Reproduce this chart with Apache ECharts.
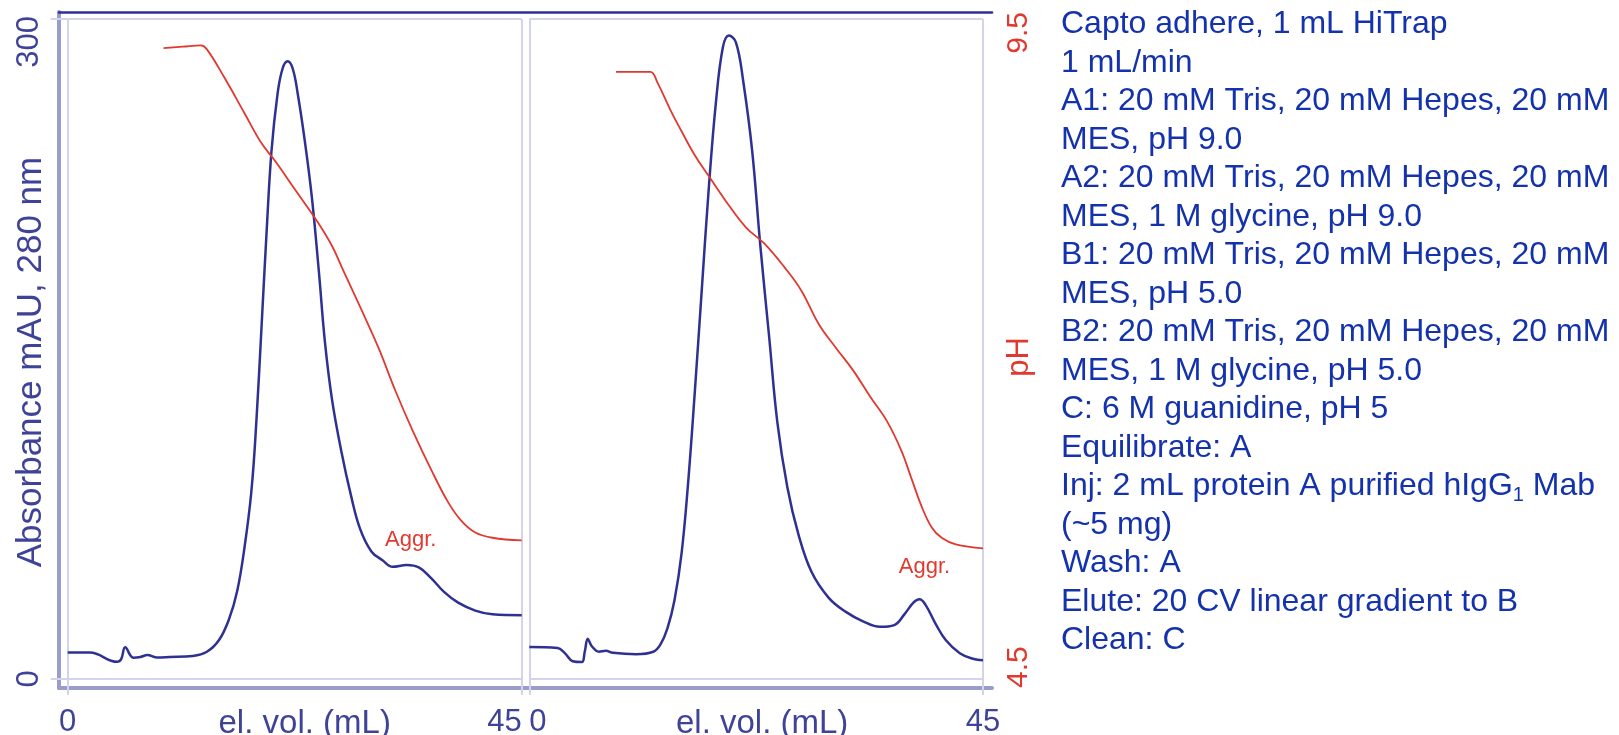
<!DOCTYPE html>
<html>
<head>
<meta charset="utf-8">
<script src="https://cdn.jsdelivr.net/npm/echarts@6/dist/echarts.min.js"></script>
<style>
html, body { margin: 0; padding: 0; background: #fff; }
#frame { width: 1619px; height: 735px; }
</style>
</head>
<body>
<div id="frame"></div>
<script>
// left run (Capto adhere, no glycine)
const leftVol = [0, 2.2, 4.9, 5.3, 5.7, 6.5, 7.2, 7.9, 8.8, 10.1, 12.4, 13.8, 15.0, 16.0, 16.8,
  17.5, 18.2, 18.7, 19.2, 19.7, 20.2, 20.8, 21.3, 21.8, 22.3, 22.8, 23.5, 24.2, 24.9, 25.5,
  26.2, 27.1, 28.1, 29.0, 30.1, 31.2, 32.2, 33.6, 34.8, 36.0, 37.3, 38.7, 40.4, 42.1, 45];
const leftAbs = [12, 12, 7.8, 9, 14.4, 9.7, 10, 10.9, 9.8, 10, 10.5, 12.4, 17.7, 27.3, 40,
  59, 85, 117, 159, 202, 240, 266, 277.5, 280.8, 277.5, 266, 244.6, 219, 185, 153,
  127, 104, 83, 68, 58, 54, 51, 51.8, 50.7, 46, 39.6, 34.7, 31.1, 29.4, 29];
const leftPhVol = [9.5, 11.4, 13.2, 13.8, 15.5, 17.5, 19.2, 20.6, 22.6, 24.7, 26.2, 27.4,
  29.1, 30.8, 32.5, 34.2, 36.0, 37.7, 39.0, 40.4, 42.1, 45];
const leftPh = [9.28, 9.29, 9.30, 9.27, 9.06, 8.79, 8.56, 8.42, 8.20, 7.97, 7.78, 7.58,
  7.30, 7.01, 6.68, 6.38, 6.09, 5.84, 5.70, 5.61, 5.57, 5.55];

// right run (with 1 M glycine)
const rightVol = [0, 2.8, 3.5, 4.3, 5.2, 5.5, 5.8, 6.2, 6.9, 7.6, 8.3, 10.6, 12.3, 13.0, 13.7,
  14.4, 15.1, 15.75, 16.4, 17.1, 17.8, 18.5, 19.2, 19.8, 20.5, 21.2, 22.1, 22.9, 23.8, 24.6,
  25.6, 26.7, 28.0, 29.7, 31.4, 33.1, 34.8, 36.2, 37.2, 38.1, 38.7, 39.3, 40.3, 41.3, 42.7, 44.0, 45];
const rightAbs = [14.5, 14.1, 11.9, 8.1, 7.7, 12.4, 18.3, 14.9, 12.4, 12.8, 11.9, 11.3, 12.4, 15.6, 23,
  35.8, 57, 89, 129.5, 176.4, 223, 261.6, 287.2, 292.5, 289.3, 272.3, 240.3, 197.7, 155, 116.8,
  87, 65.6, 48.6, 36.9, 30.5, 26.2, 23.7, 24.5, 29.4, 34.7, 36.2, 33.7, 25.1, 17.7, 11.7, 9.2, 8.5];
const rightPhVol = [8.6, 12.0, 12.7, 14.0, 15.1, 16.4, 17.8, 19.5, 21.5, 23.3, 25.3, 27.0,
  28.7, 30.4, 32.1, 33.8, 35.5, 36.9, 37.9, 38.9, 39.9, 40.9, 42.3, 45];
const rightPh = [9.10, 9.10, 9.02, 8.81, 8.65, 8.47, 8.31, 8.12, 7.92, 7.80, 7.62, 7.44,
  7.19, 7.01, 6.84, 6.64, 6.45, 6.23, 6.02, 5.81, 5.65, 5.57, 5.52, 5.49];

const volTicks = [0, 45];
const absTicks = [0, 300];
const phTicks = [4.5, 9.5];
const aggrLeft = [34.0, 63];
const aggrRight = [39.2, 51];

const infoLines = [
  'Capto adhere, 1 mL HiTrap',
  '1 mL/min',
  'A1: 20 mM Tris, 20 mM Hepes, 20 mM',
  'MES, pH 9.0',
  'A2: 20 mM Tris, 20 mM Hepes, 20 mM',
  'MES, 1 M glycine, pH 9.0',
  'B1: 20 mM Tris, 20 mM Hepes, 20 mM',
  'MES, pH 5.0',
  'B2: 20 mM Tris, 20 mM Hepes, 20 mM',
  'MES, 1 M glycine, pH 5.0',
  'C: 6 M guanidine, pH 5',
  'Equilibrate: A',
  'Inj: 2 mL protein A purified hIgG{sub|1} Mab',
  '(~5 mg)',
  'Wash: A',
  'Elute: 20 CV linear gradient to B',
  'Clean: C'
];

const font = 'Liberation Sans, Arial, sans-serif';
const navy = '#2e3192';
const axisText = '#3f4398';
const red = '#e0392f';
const lavender = '#d3d4ea';
const frameLight = '#9a9cca';
const infoBlue = '#1432ac';

// frame box spans y 12..688, panel boxes 19..679 (2.2 px per mAU)
const absFrameMin = absTicks[0] - 9 / 2.2;
const absFrameMax = absTicks[1] + 4 / 2.2;

function pairs(xs, ys) {
  return xs.map((x, i) => [x, ys[i]]);
}

function frameX(pos, color, width) {
  return {
    gridIndex: 0, type: 'value', min: 0, max: 1, position: pos,
    axisLine: { show: true, onZero: false, lineStyle: { color: color, width: width } },
    axisTick: { show: false }, axisLabel: { show: false }, splitLine: { show: false }
  };
}

function panelX(gridIndex, labelAlign, nameShift) {
  const axisLabel = { fontSize: 31, color: axisText, margin: 28, fontFamily: font };
  Object.assign(axisLabel, labelAlign);
  return {
    gridIndex: gridIndex, type: 'value', min: volTicks[0], max: volTicks[1],
    interval: volTicks[1] - volTicks[0],
    axisLine: { show: false, onZero: false },
    axisTick: { show: true, length: 16, lineStyle: { color: lavender, width: 2 } },
    splitLine: { show: true, lineStyle: { color: lavender, width: 2 } },
    axisLabel: axisLabel,
    name: 'el. vol. (mL)', nameLocation: 'middle', nameGap: 28, nameMoveOverlap: false,
    nameTextStyle: { fontSize: 33, color: axisText, fontFamily: font, padding: [0, 0, 0, nameShift * 2] }
  };
}

function absLine(data, xi, yi, aggr) {
  return {
    type: 'line', xAxisIndex: xi, yAxisIndex: yi, data: data,
    showSymbol: false, smooth: 0.4, silent: true,
    lineStyle: { color: navy, width: 2.5 }, itemStyle: { color: navy },
    markPoint: {
      symbol: 'circle', symbolSize: 1, silent: true,
      itemStyle: { color: 'rgba(0,0,0,0)' },
      label: { show: true, position: 'inside', formatter: 'Aggr.', color: red, fontSize: 22, fontFamily: font },
      data: [{ coord: aggr }]
    }
  };
}

function phLine(data, xi, yi) {
  return {
    type: 'line', xAxisIndex: xi, yAxisIndex: yi, data: data,
    showSymbol: false, smooth: 0.4, silent: true,
    lineStyle: { color: red, width: 1.8 }, itemStyle: { color: red }
  };
}

const chart = echarts.init(document.getElementById('frame'));
chart.setOption({
  animation: false,
  backgroundColor: '#fff',
  textStyle: { fontFamily: font },
  title: {
    left: 1061, top: 5, padding: 0,
    text: infoLines.join('\n'),
    textStyle: {
      fontFamily: font, fontSize: 32, fontWeight: 'normal', color: infoBlue, lineHeight: 38.5,
      rich: {
        sub: { fontFamily: font, fontSize: 20, lineHeight: 21, verticalAlign: 'bottom', color: infoBlue }
      }
    }
  },
  grid: [
    { left: 59, top: 12, width: 933, height: 676, outerBoundsMode: 'none' },
    { left: 67.7, top: 19, width: 454, height: 660, outerBoundsMode: 'none' },
    { left: 529.3, top: 19, width: 453.7, height: 660, outerBoundsMode: 'none' }
  ],
  xAxis: [
    frameX('bottom', frameLight, 4),
    frameX('top', navy, 2.5),
    panelX(1, { alignMaxLabel: 'right' }, 10),
    panelX(2, { alignMinLabel: 'left' }, 6)
  ],
  yAxis: [
    {
      gridIndex: 0, type: 'value', min: absFrameMin, max: absFrameMax, position: 'left',
      axisLine: { show: true, lineStyle: { color: navy, width: 2.5 } },
      axisTick: { show: false }, splitLine: { show: false },
      axisLabel: {
        show: true, customValues: absTicks, rotate: 90, fontSize: 31, color: axisText,
        margin: 14, alignMaxLabel: 'right', fontFamily: font
      },
      name: 'Absorbance mAU, 280 nm', nameLocation: 'middle', nameRotate: 90, nameGap: 10,
      nameMoveOverlap: false,
      nameTextStyle: { fontSize: 35, color: axisText, fontFamily: font, padding: [0, 24, 0, 0] }
    },
    {
      gridIndex: 0, type: 'value', min: phTicks[0], max: phTicks[1], position: 'right',
      axisLine: { show: true, lineStyle: { color: frameLight, width: 4 } },
      axisTick: { show: false }, splitLine: { show: false },
      axisLabel: {
        show: true, customValues: phTicks, rotate: 90, fontSize: 30, color: red,
        margin: 12, alignMinLabel: 'left', alignMaxLabel: 'right', fontFamily: font
      },
      name: 'pH', nameLocation: 'middle', nameRotate: 90, nameGap: 12, nameMoveOverlap: false,
      nameTextStyle: { fontSize: 31, color: red, fontFamily: font, padding: [0, 14, 0, 0] }
    },
    {
      gridIndex: 1, type: 'value', min: absTicks[0], max: absTicks[1], interval: absTicks[1],
      position: 'left', axisLine: { show: false }, axisLabel: { show: false },
      axisTick: { show: true, length: 17, lineStyle: { color: lavender, width: 2 } },
      splitLine: { show: true, lineStyle: { color: lavender, width: 2 } }
    },
    { gridIndex: 1, type: 'value', min: phTicks[0], max: phTicks[1], position: 'right', show: false },
    {
      gridIndex: 2, type: 'value', min: absTicks[0], max: absTicks[1], interval: absTicks[1],
      position: 'left', axisLine: { show: false }, axisLabel: { show: false }, axisTick: { show: false },
      splitLine: { show: true, lineStyle: { color: lavender, width: 2 } }
    },
    { gridIndex: 2, type: 'value', min: phTicks[0], max: phTicks[1], position: 'right', show: false }
  ],
  series: [
    absLine(pairs(leftVol, leftAbs), 2, 2, aggrLeft),
    phLine(pairs(leftPhVol, leftPh), 2, 3),
    absLine(pairs(rightVol, rightAbs), 3, 4, aggrRight),
    phLine(pairs(rightPhVol, rightPh), 3, 5)
  ]
});
</script>
</body>
</html>
